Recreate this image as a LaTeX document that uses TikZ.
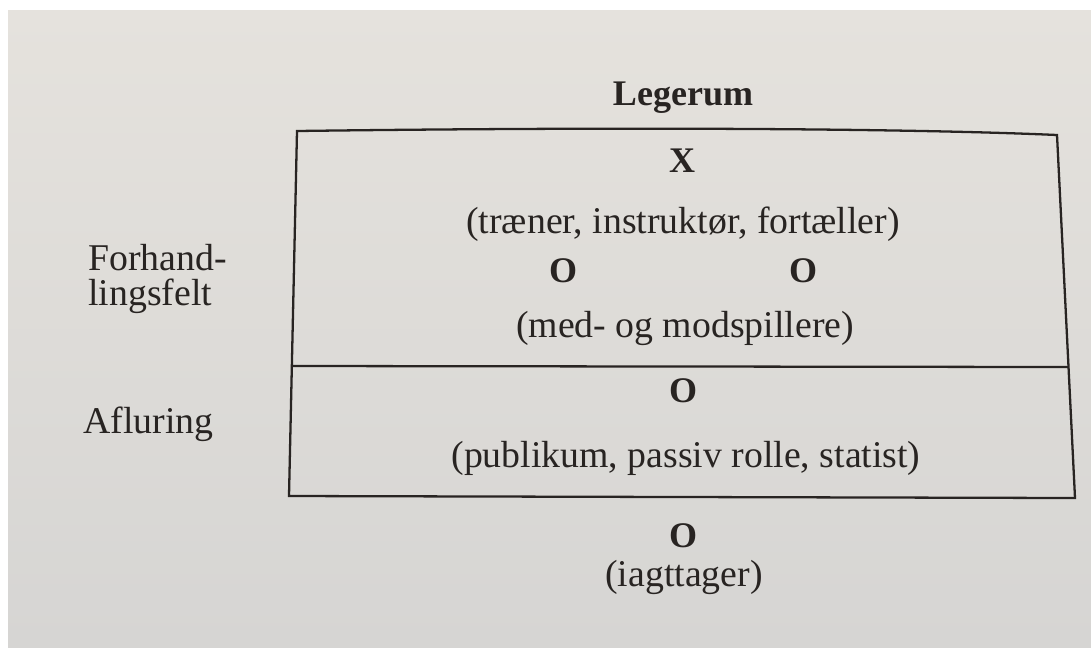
\documentclass[tikz,border=0pt]{standalone}
\usepackage{fontspec}
\setmainfont{Liberation Serif}
\usetikzlibrary{positioning}
\definecolor{ink}{RGB}{40,36,34}
\definecolor{papertop}{RGB}{229,226,221}
\definecolor{paperbot}{RGB}{214,213,211}

\begin{document}
\begin{tikzpicture}[x=0.02cm, y=-0.02cm,
    every node/.style={inner sep=0pt, text=ink, font=\fontsize{21.5}{25}\selectfont},
    role/.style={font=\fontsize{20.5}{24}\selectfont\bfseries},
    frame/.style={draw=ink, line width=1.3pt, line join=miter}]
            \useasboundingbox (0,0) rectangle (1091,647);
            % Page
            \fill[white] (0,0) rectangle (1091,647);
            \shade[top color=papertop, bottom color=paperbot] (8,10) rectangle (1091,647);

            % Box corners
            \coordinate (tl) at (297,131);
            \coordinate (tr) at (1057,135);
            \coordinate (br) at (1075,498);
            \coordinate (bl) at (289,496);
            \coordinate (ml) at (293,366);
            \coordinate (mr) at (1068,367);

            % Box and divider
            \draw[frame] (tl) .. controls (600,127) and (900,128) .. (tr) -- (br) -- (bl) -- cycle;
            \draw[frame] (ml) -- (mr);

            % Title
            \node[role, anchor=base] (legerum) at (683,105) {Legerum};

            % Upper field
            \node[role, anchor=base] (leader) at (682,172) {X};
            \node[anchor=base] (leadertxt) at (683,233) {(træner, instruktør, fortæller)};
            \node[role, anchor=base] (playerA) at (563,282) {O};
            \node[role, anchor=base] (playerB) at (803,282) {O};
            \node[anchor=base] (playertxt) at (685,337) {(med- og modspillere)};

            % Lower field
            \node[role, anchor=base] (crowd) at (683,402) {O};
            \node[anchor=base] (crowdtxt) at (686,467) {(publikum, passiv rolle, statist)};

            % Outside the box
            \node[role, anchor=base] (observer) at (683,547) {O};
            \node[anchor=base] (observertxt) at (684,586) {(iagttager)};

            % Side labels
            \node[anchor=base west] (forhand) at (88,270) {Forhand-};
            \node[anchor=base west] (felt) at (88,305) {lingsfelt};
            \node[anchor=base west] (afluring) at (83,433) {Afluring};

        \end{tikzpicture}
\end{document}
